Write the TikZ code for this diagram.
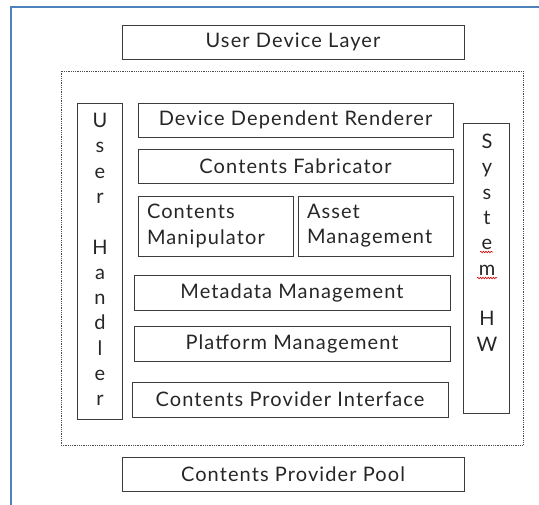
\documentclass[tikz,border=0pt]{standalone}
\usepackage{fontspec}
\setmainfont[LetterSpace=5.5]{Lato}
\usetikzlibrary{decorations.pathmorphing}
\definecolor{frameblue}{RGB}{79,129,189}
\definecolor{boxline}{RGB}{60,60,60}
\tikzset{
  txt/.style={inner sep=0pt, align=center, font=\fontsize{20}{25.3}\selectfont, text=black!85},
  blk/.style={txt, draw=boxline, line width=0.9pt},
  lblk/.style={blk, align=left, inner xsep=9pt},
  outerdots/.style={draw=black!70, line width=0.9pt, dash pattern=on 0.9pt off 0.9pt},
  squig/.style={draw=red!80!black, line width=0.6pt, decorate,
    decoration={snake, amplitude=0.8pt, segment length=2.6pt}}
}
\begin{document}
\begin{tikzpicture}[x=1pt,y=-1pt]
\useasboundingbox (0,0) rectangle (539,505);
% blue frame (open at right and bottom)
\coordinate (fbl) at (11,505);
\coordinate (ftl) at (11,7);
\coordinate (ftr) at (539,7);
\draw[frameblue, line width=2.4pt] (fbl) -- (ftl) -- (ftr);

\node[blk, minimum width=342pt, minimum height=34pt] (udl) at (293,42) {User Device Layer};
\node[outerdots, minimum width=462pt, minimum height=374pt] (core) at (292,258) {};

\node[blk, minimum width=45pt, minimum height=316pt] (uh) at (99.5,261) {};
\node[txt, anchor=north] (uhtext) at (100,113) {U\\s\\e\\r\\~\\H\\a\\n\\d\\l\\e\\r};
\node[blk, minimum width=315pt, minimum height=34pt] (ddr) at (295.5,120) {Device Dependent Renderer};
\node[blk, minimum width=315pt, minimum height=34pt] (cf) at (295.5,166) {Contents Fabricator};
\node[lblk, text width=137pt, minimum width=155pt, minimum height=60pt] (cm) at (215.5,226) {Contents\\Manipulator};
\node[lblk, text width=137pt, minimum width=155pt, minimum height=60pt] (am) at (375.5,226) {Asset\\Management};
\node[blk, minimum width=316pt, minimum height=35pt] (meta) at (292,292.5) {Metadata Management};
\node[blk, minimum width=316pt, minimum height=35pt] (plat) at (292,343.5) {Platform Management};
\node[blk, minimum width=316pt, minimum height=35pt] (cpi) at (290,399.5) {Contents Provider Interface};
\node[blk, minimum width=46pt, minimum height=290pt] (sys) at (486,268) {};
\node[txt, anchor=north] (systext) at (487,134) {S\\y\\s\\t\\e\\m\\~\\H\\W};
\node[blk, minimum width=342pt, minimum height=34pt] (pool) at (293,474) {Contents Provider Pool};

% spell-check squiggles under "e" and "m"
\coordinate (sqe1) at (480,252);
\coordinate (sqe2) at (493,252);
\coordinate (sqm1) at (477,278);
\coordinate (sqm2) at (497,278);
\draw[squig] (sqe1) -- (sqe2);
\draw[squig] (sqm1) -- (sqm2);
\end{tikzpicture}
\end{document}
